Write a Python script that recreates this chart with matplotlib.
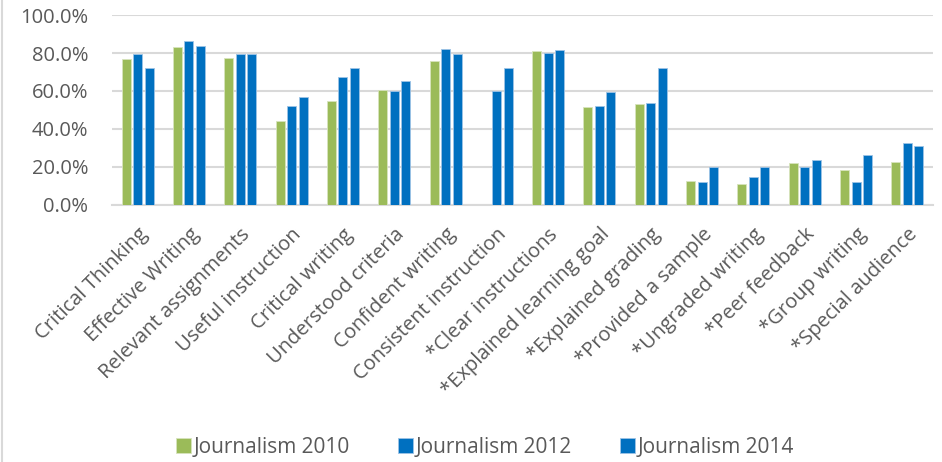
import numpy as np
import matplotlib
matplotlib.use("Agg")
import matplotlib.pyplot as plt
from matplotlib.ticker import FuncFormatter
from matplotlib.lines import Line2D

categories = ["Critical Thinking", "Effective Writing", "Relevant assignments",
              "Useful instruction", "Critical writing", "Understood criteria",
              "Confident writing", "Consistent instruction", "*Clear instructions",
              "*Explained learning goal", "*Explained grading", "*Provided a sample",
              "*Ungraded writing", "*Peer feedback", "*Group writing", "*Special audience"]
j2010 = [76.7, 83.0, 77.6, 44.2, 54.6, 60.7, 75.6, np.nan, 81.3, 51.6, 53.4, 12.8, 11.3, 21.9, 18.4, 22.5]
j2012 = [79.7, 86.2, 79.7, 52.3, 67.2, 59.8, 82.3, 59.8, 79.8, 52.3, 53.7, 12.3, 14.9, 19.8, 12.3, 32.5]
j2014 = [72.0, 83.7, 79.7, 56.8, 72.3, 65.3, 79.7, 72.3, 81.8, 59.3, 72.0, 20.2, 20.2, 23.7, 26.5, 31.3]
series_names = ["Journalism 2010", "Journalism 2012", "Journalism 2014"]
yticks = [0, 20, 40, 60, 80, 100]

green = "#9BBB59"
blue = "#0070C0"
text_color = "#595959"
grid_color = "#D9D9D9"

fig = plt.figure(figsize=(9.42, 4.62), dpi=100)
ax = fig.add_axes([112/942, 1 - 205/462, (933-112)/942, (205-15)/462])

x = np.arange(len(categories))
w = 0.175
step = 0.224
ax.bar(x - step, j2010, width=w, color=green, edgecolor="#D7E4BD", linewidth=0.6, label=series_names[0], zorder=3)
ax.bar(x, j2012, width=w, color=blue, edgecolor="#9DC3E6", linewidth=0.6, label=series_names[1], zorder=3)
ax.bar(x + step, j2014, width=w, color=blue, edgecolor="#9DC3E6", linewidth=0.6, label=series_names[2], zorder=3)

ax.set_xlim(-0.5, len(categories) - 0.5)
ax.set_ylim(0, 100)
ax.set_yticks(yticks)
ax.yaxis.set_major_formatter(FuncFormatter(lambda v, p: f"{v:.1f}%"))
ax.grid(axis="y", color=grid_color, linewidth=1.5, zorder=0)
ax.set_axisbelow(True)
for s in ["left", "right", "top"]:
    ax.spines[s].set_visible(False)
ax.spines["bottom"].set_color(grid_color)
ax.spines["bottom"].set_linewidth(1.5)
ax.tick_params(axis="both", length=0, colors=text_color)
ax.tick_params(axis="y", labelsize=14.5, pad=17)

ax.set_xticks(x)
ax.set_xticklabels(categories, rotation=45, ha="right", va="top", rotation_mode="anchor",
                   fontsize=14.5, color=text_color, family="Open Sans")
for lbl in ax.get_yticklabels():
    lbl.set_family("Open Sans")
ax.tick_params(axis="x", pad=14)

leg = fig.legend(loc="center", bbox_to_anchor=(0.515, 0.032), ncol=3, frameon=False,
                 prop={"family": "Open Sans", "size": 15}, handlelength=0.7, handleheight=0.7,
                 handletextpad=0.15, columnspacing=2.3)
for t in leg.get_texts():
    t.set_color(text_color)

fig.add_artist(Line2D([1.5/942, 1.5/942], [0, 1], transform=fig.transFigure, color=grid_color, linewidth=1.5))

fig.savefig("out.png", dpi=100)
